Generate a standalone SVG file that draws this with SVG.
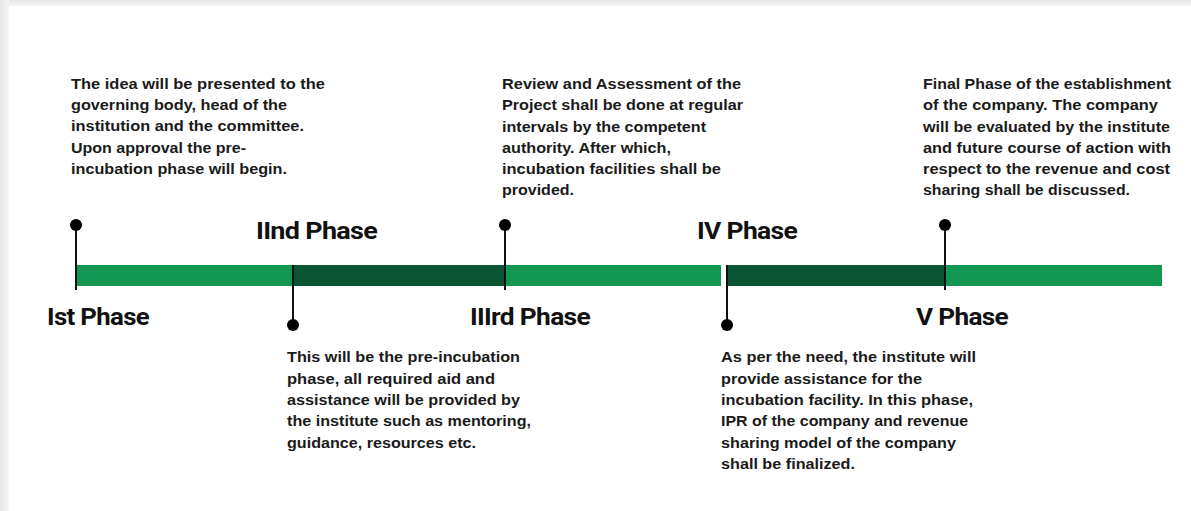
<svg xmlns="http://www.w3.org/2000/svg" width="1191" height="511" viewBox="0 0 1191 511">
<defs>
<linearGradient id="topShade" x1="0" y1="0" x2="0" y2="1">
<stop offset="0" stop-color="#e6e6e6"/><stop offset="1" stop-color="#f6f6f6"/>
</linearGradient>
<linearGradient id="leftShade" x1="0" y1="0" x2="1" y2="0">
<stop offset="0" stop-color="#e6e6e6"/><stop offset="1" stop-color="#f6f6f6"/>
</linearGradient>
</defs>
<style>
.para{font-family:"Liberation Sans",Arial,sans-serif;font-weight:bold;font-size:14.5px;fill:#1a1a1a;}
.phase{font-family:Roboto,"Liberation Sans",sans-serif;font-weight:bold;font-size:23px;fill:#111;letter-spacing:-0.6px;}
.stem{stroke:#111;stroke-width:2;fill:none;}
.dot{fill:#000;}
.light{fill:#129752;}
.dark{fill:#0a5433;}
</style>
<rect x="0" y="0" width="1191" height="511" fill="#ffffff"/>
<rect x="0" y="0" width="1191" height="6" fill="url(#topShade)"/>
<rect x="0" y="0" width="9" height="511" fill="url(#leftShade)"/>

<g id="bar">
<rect class="light" x="75" y="265" width="646" height="21"/>
<rect class="dark" x="293" y="265" width="212" height="21"/>
<rect class="dark" x="727" y="265" width="218" height="21"/>
<rect class="light" x="945" y="265" width="217" height="21"/>
</g>

<g id="connectors">
<line class="stem" x1="76" y1="225" x2="76" y2="290"/>
<line class="stem" x1="293" y1="265" x2="293" y2="325"/>
<line class="stem" x1="505" y1="225" x2="505" y2="290"/>
<line class="stem" x1="727" y1="265" x2="727" y2="325"/>
<line class="stem" x1="945" y1="225" x2="945" y2="290"/>
<circle class="dot" cx="76" cy="225" r="6"/>
<circle class="dot" cx="293" cy="325" r="6"/>
<circle class="dot" cx="505" cy="225" r="6"/>
<circle class="dot" cx="727" cy="325" r="6"/>
<circle class="dot" cx="945" cy="225" r="6"/>
</g>

<g id="phase1">
<text class="phase" x="47" y="325" textLength="102" lengthAdjust="spacingAndGlyphs">Ist Phase</text>
<text class="para" x="71" y="89" textLength="254" lengthAdjust="spacingAndGlyphs">The idea will be presented to the</text>
<text class="para" x="71" y="110" textLength="216" lengthAdjust="spacingAndGlyphs">governing body, head of the</text>
<text class="para" x="71" y="131" textLength="233" lengthAdjust="spacingAndGlyphs">institution and the committee.</text>
<text class="para" x="71" y="153" textLength="175" lengthAdjust="spacingAndGlyphs">Upon approval the pre-</text>
<text class="para" x="71" y="174" textLength="216" lengthAdjust="spacingAndGlyphs">incubation phase will begin.</text>
</g>

<g id="phase2">
<text class="phase" x="256" y="239" textLength="121" lengthAdjust="spacingAndGlyphs">IInd Phase</text>
<text class="para" x="287" y="362" textLength="233" lengthAdjust="spacingAndGlyphs">This will be the pre-incubation</text>
<text class="para" x="287" y="384" textLength="208" lengthAdjust="spacingAndGlyphs">phase, all required aid and</text>
<text class="para" x="287" y="405" textLength="233" lengthAdjust="spacingAndGlyphs">assistance will be provided by</text>
<text class="para" x="287" y="426" textLength="244" lengthAdjust="spacingAndGlyphs">the institute such as mentoring,</text>
<text class="para" x="287" y="448" textLength="189" lengthAdjust="spacingAndGlyphs">guidance, resources etc.</text>
</g>

<g id="phase3">
<text class="phase" x="470" y="325" textLength="120" lengthAdjust="spacingAndGlyphs">IIIrd Phase</text>
<text class="para" x="502" y="89" textLength="239" lengthAdjust="spacingAndGlyphs">Review and Assessment of the</text>
<text class="para" x="502" y="110" textLength="241" lengthAdjust="spacingAndGlyphs">Project shall be done at regular</text>
<text class="para" x="502" y="132" textLength="204" lengthAdjust="spacingAndGlyphs">intervals by the competent</text>
<text class="para" x="502" y="153" textLength="169" lengthAdjust="spacingAndGlyphs">authority. After which,</text>
<text class="para" x="502" y="174" textLength="219" lengthAdjust="spacingAndGlyphs">incubation facilities shall be</text>
<text class="para" x="502" y="195" textLength="72" lengthAdjust="spacingAndGlyphs">provided.</text>
</g>

<g id="phase4">
<text class="phase" x="697" y="239" textLength="100" lengthAdjust="spacingAndGlyphs">IV Phase</text>
<text class="para" x="721" y="362" textLength="255" lengthAdjust="spacingAndGlyphs">As per the need, the institute will</text>
<text class="para" x="721" y="384" textLength="201" lengthAdjust="spacingAndGlyphs">provide assistance for the</text>
<text class="para" x="721" y="405" textLength="252" lengthAdjust="spacingAndGlyphs">incubation facility. In this phase,</text>
<text class="para" x="721" y="426" textLength="247" lengthAdjust="spacingAndGlyphs">IPR of the company and revenue</text>
<text class="para" x="721" y="448" textLength="235" lengthAdjust="spacingAndGlyphs">sharing model of the company</text>
<text class="para" x="721" y="469" textLength="134" lengthAdjust="spacingAndGlyphs">shall be finalized.</text>
</g>

<g id="phase5">
<text class="phase" x="916" y="325" textLength="92" lengthAdjust="spacingAndGlyphs">V Phase</text>
<text class="para" x="923" y="89" textLength="248" lengthAdjust="spacingAndGlyphs">Final Phase of the establishment</text>
<text class="para" x="923" y="110" textLength="235" lengthAdjust="spacingAndGlyphs">of the company. The company</text>
<text class="para" x="923" y="132" textLength="247" lengthAdjust="spacingAndGlyphs">will be evaluated by the institute</text>
<text class="para" x="923" y="153" textLength="248" lengthAdjust="spacingAndGlyphs">and future course of action with</text>
<text class="para" x="923" y="174" textLength="247" lengthAdjust="spacingAndGlyphs">respect to the revenue and cost</text>
<text class="para" x="923" y="195" textLength="207" lengthAdjust="spacingAndGlyphs">sharing shall be discussed.</text>
</g>
</svg>
